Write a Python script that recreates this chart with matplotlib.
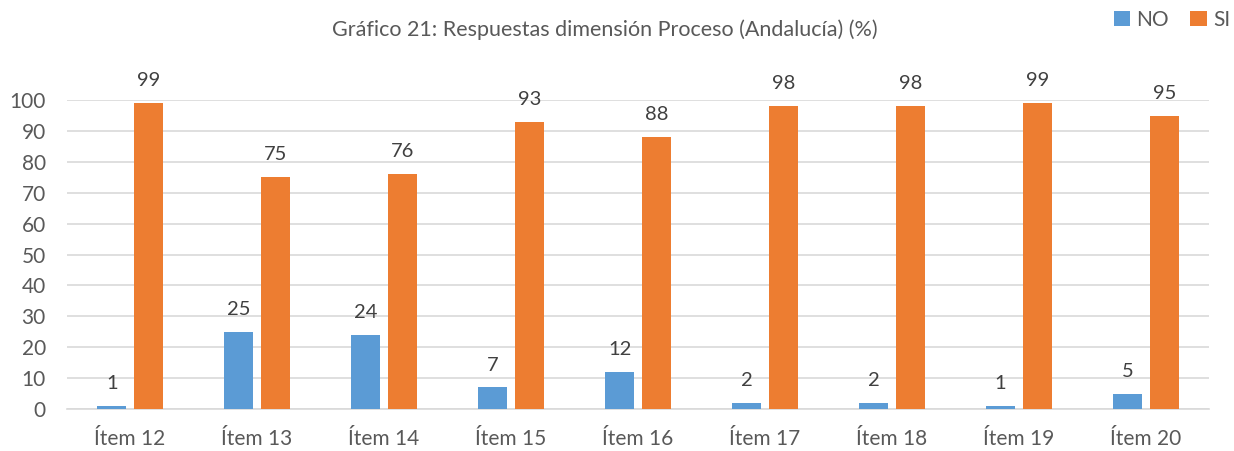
import numpy as np
import matplotlib.pyplot as plt

items = ['Ítem 12', 'Ítem 13', 'Ítem 14', 'Ítem 15', 'Ítem 16', 'Ítem 17', 'Ítem 18', 'Ítem 19', 'Ítem 20']
no_vals = [1, 25, 24, 7, 12, 2, 2, 1, 5]
si_vals = [99, 75, 76, 93, 88, 98, 98, 99, 95]

plt.rcParams['font.family'] = ['Lato', 'DejaVu Sans']
txt = '#595959'

fig = plt.figure(figsize=(12.34, 4.51), dpi=100)
ax = fig.add_axes([0.054, 0.093, 0.926, 0.685])

x = np.arange(len(items))
w = 0.23
b1 = ax.bar(x - 0.145, no_vals, w, color='#5B9BD5', label='NO', zorder=3)
b2 = ax.bar(x + 0.145, si_vals, w, color='#ED7D31', label='SI', zorder=3)

for bars in (b1, b2):
    for r in bars:
        ax.text(r.get_x() + r.get_width() / 2, r.get_height() + 4.5, '%d' % r.get_height(),
                ha='center', va='bottom', fontsize=14.5, color='#404040', clip_on=False)

ax.set_xlim(-0.5, len(items) - 0.5)
ax.set_ylim(0, 100)
ax.set_yticks(range(0, 101, 10))
ax.set_xticks(x)
ax.set_xticklabels(items)
ax.tick_params(axis='both', length=0, labelsize=15, labelcolor=txt)
ax.tick_params(axis='x', pad=14)
ax.tick_params(axis='y', pad=15)
ax.grid(axis='y', color='#D9D9D9', linewidth=1.2, zorder=0)
for s in ['top', 'right', 'left']:
    ax.spines[s].set_visible(False)
ax.spines['bottom'].set_color('#D9D9D9')
ax.spines['bottom'].set_linewidth(1.2)

fig.text(0.49, 0.935, 'Gráfico 21: Respuestas dimensión Proceso (Andalucía) (%)',
         ha='center', va='center', fontsize=15.5, color=txt)
fig.legend(loc='upper right', bbox_to_anchor=(1.012, 1.02), ncol=2, frameon=False,
           fontsize=15, handlelength=0.8, handleheight=0.8, handletextpad=0.3,
           columnspacing=1.0, labelcolor=txt)

fig.savefig('out.png')
